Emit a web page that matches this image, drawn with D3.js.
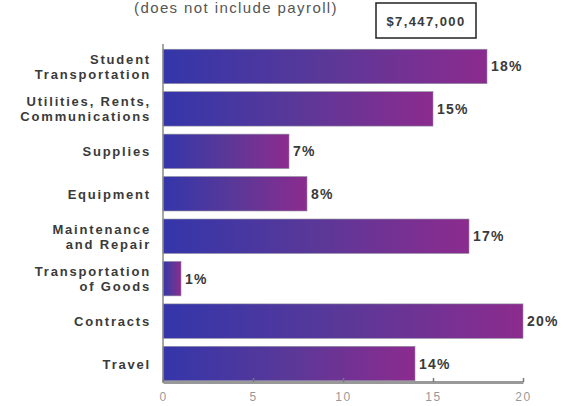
<!DOCTYPE html>
<html><head><meta charset="utf-8">
<script src="https://cdn.jsdelivr.net/npm/d3@7"></script>
<style>body{margin:0;background:#fff}svg{display:block}</style>
</head><body>
<script>
const categories = [["Student","Transportation"],["Utilities, Rents,","Communications"],["Supplies"],["Equipment"],["Maintenance","and Repair"],["Transportation","of Goods"],["Contracts"],["Travel"]];
const values = [18, 15, 7, 8, 17, 1, 20, 14];
const tickValues = [0, 5, 10, 15, 20];
const subtitle = "(does not include payroll)";
const totalLabel = "$7,447,000";

const W = 563, H = 406;
const FONT = "Liberation Sans, Arial, sans-serif";
const svg = d3.select("body").append("svg").attr("width", W).attr("height", H);
const x = d3.scaleLinear().domain([0, 20]).range([163, 523]);
const y = d3.scaleBand().domain(d3.range(categories.length)).range([45, 385]).paddingInner(0.19).paddingOuter(0.1);

const defs = svg.append("defs");
const grad = defs.append("linearGradient").attr("id","g").attr("x1","0%").attr("x2","100%").attr("y1","0%").attr("y2","0%");
grad.append("stop").attr("offset","0%").attr("stop-color","#3436aa");
grad.append("stop").attr("offset","50%").attr("stop-color","#5a3898");
grad.append("stop").attr("offset","100%").attr("stop-color","#8c2b8e");

svg.append("text").attr("x", 236).attr("y", 13).attr("text-anchor","middle")
  .attr("font-family", FONT).attr("font-size", 15).attr("letter-spacing", 1.4).attr("fill","#555").text(subtitle);
svg.append("rect").attr("x", 376).attr("y", 3).attr("width", 100).attr("height", 35)
  .attr("fill","#fff").attr("stroke","#222").attr("stroke-width", 1.5);
svg.append("text").attr("x", 426).attr("y", 26).attr("text-anchor","middle")
  .attr("font-family", FONT).attr("font-weight","bold").attr("font-size", 13).attr("letter-spacing", 1.4).attr("fill","#3a3a3a").text(totalLabel);

// bars
svg.selectAll("rect.bar").data(values).join("rect").attr("class","bar")
  .attr("x", x(0)).attr("y", (d,i)=>y(i)).attr("width", d=>x(d)-x(0)).attr("height", y.bandwidth())
  .attr("fill","url(#g)").attr("stroke","#8a8a9a").attr("stroke-width",0.6);

// value labels
svg.selectAll("text.val").data(values).join("text").attr("class","val")
  .attr("x", d=>x(d)+4).attr("y", (d,i)=>y(i)+y.bandwidth()/2+5)
  .attr("font-family", FONT).attr("font-weight","bold").attr("font-size", 14).attr("letter-spacing", 1.2).attr("fill","#3a3a3a")
  .text(d=>d+"%");

// category labels
const cl = svg.selectAll("text.cat").data(categories).join("text").attr("class","cat")
  .attr("text-anchor","end").attr("font-family", FONT).attr("font-weight","bold")
  .attr("font-size", 13).attr("letter-spacing", 1.8).attr("fill","#3a3a3a");
cl.each(function(lines,i){
  const t = d3.select(this);
  const cy = y(i)+y.bandwidth()/2;
  const lh = 15;
  const start = cy - (lines.length-1)*lh/2 + 5;
  lines.forEach((s,k)=>t.append("tspan").attr("x",151).attr("y",start+k*lh).text(s));
});

// left axis line
svg.append("line").attr("x1", 163).attr("x2", 163).attr("y1", 44).attr("y2", 383).attr("stroke","#888").attr("stroke-width",1.5);

// bottom axis
const ax = svg.append("g").attr("transform","translate(0,382)")
  .call(d3.axisBottom(x).tickValues(tickValues).tickSize(-4).tickPadding(10).tickSizeOuter(0));
ax.select(".domain").attr("stroke","#999").attr("stroke-width",3);
ax.selectAll(".tick line").attr("stroke","#777").attr("stroke-width",1.5);
ax.selectAll(".tick text").attr("font-family", FONT).attr("font-size", 12).attr("letter-spacing", 1.5).attr("fill","#999");
</script>
</body></html>
